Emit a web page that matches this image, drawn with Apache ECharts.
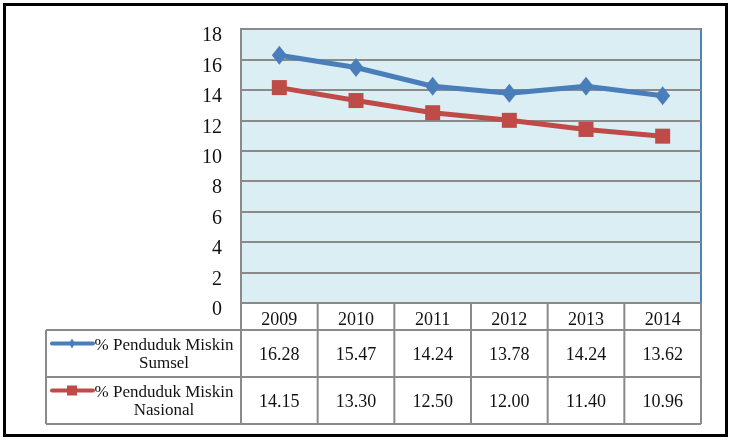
<!DOCTYPE html>
<html><head><meta charset="utf-8">
<script src="https://cdn.jsdelivr.net/npm/echarts@6/dist/echarts.min.js"></script>
<style>html,body{margin:0;padding:0;background:#fff}#c{width:731px;height:448px}</style>
</head><body><div id="c"></div>
<script>
var years = ['2009','2010','2011','2012','2013','2014'];
var sumsel = [16.28, 15.47, 14.24, 13.78, 14.24, 13.62];
var nasional = [14.15, 13.30, 12.50, 12.00, 11.40, 10.96];
var sumselLabel = ['% Penduduk Miskin', 'Sumsel'];
var nasionalLabel = ['% Penduduk Miskin', 'Nasional'];
var yTicks = {min: 0, max: 18, interval: 2};

var FONT = '"Liberation Serif", serif';
var BLUE = '#4a7ebb', RED = '#be4b48', GRID = '#8a8a8a';
var chart = echarts.init(document.getElementById('c'), null, {renderer: 'canvas'});
var option = {
  animation: false,
  grid: {left: 241, right: 30, top: 29, bottom: 145, show: true, backgroundColor: '#dbeef4', borderColor: '#4f81bd', borderWidth: 2},
  xAxis: {type: 'category', data: years, boundaryGap: true,
    axisLine: {show: false}, axisTick: {show: false},
    axisLabel: {margin: 8, fontFamily: FONT, fontSize: 18, color: '#111'}},
  yAxis: {type: 'value', min: yTicks.min, max: yTicks.max, interval: yTicks.interval,
    axisLine: {show: true, lineStyle: {color: GRID, width: 2}},
    axisTick: {show: false},
    axisLabel: {margin: 19, fontFamily: FONT, fontSize: 20, color: '#111', verticalAlign: 'top', lineHeight: 14},
    splitLine: {lineStyle: {color: GRID, width: 2}}},
  series: [
    {name: 'Sumsel', type: 'line', data: sumsel, symbol: 'diamond', symbolSize: [15, 19],
      lineStyle: {color: BLUE, width: 5}, itemStyle: {color: BLUE}},
    {name: 'Nasional', type: 'line', data: nasional, symbol: 'rect', symbolSize: 15,
      lineStyle: {color: RED, width: 5}, itemStyle: {color: RED}}
  ]
};
chart.setOption(option);

function buildTable() {
  var g = [];
  var tL = 46, pL = 241, pR = 701, yTop = 303, r1 = 330, r2 = 377, r3 = 424;
  var ls = {stroke: GRID, lineWidth: 2};
  g.push({type: 'rect', shape: {x: 4.5, y: 4.5, width: 722, height: 431}, style: {fill: null, stroke: '#000', lineWidth: 3}, z: 100});
  g.push({type: 'line', shape: {x1: pL, y1: yTop, x2: pR, y2: yTop}, style: ls, z: 50});
  [r1, r2, r3].forEach(function (y) { g.push({type: 'line', shape: {x1: tL, y1: y, x2: pR, y2: y}, style: ls, z: 50}); });
  g.push({type: 'line', shape: {x1: tL, y1: r1, x2: tL, y2: r3}, style: ls, z: 50});
  var colW = (pR - pL) / years.length;
  for (var i = 0; i <= years.length; i++) {
    var x = pL + i * colW;
    g.push({type: 'line', shape: {x1: x, y1: yTop, x2: x, y2: r3}, style: ls, z: 50});
  }
  var rows = [[sumsel, r1, r2, sumselLabel, BLUE, 'diamond'], [nasional, r2, r3, nasionalLabel, RED, 'rect']];
  rows.forEach(function (row) {
    var vals = row[0], ya = row[1], yb = row[2], cy = (ya + yb) / 2;
    vals.forEach(function (v, j) {
      var cx = chart.convertToPixel({xAxisIndex: 0}, years[j]);
      g.push({type: 'text', x: cx, y: cy + 2, style: {text: v.toFixed(2), fontFamily: FONT, fontSize: 18, fill: '#111', align: 'center', verticalAlign: 'middle'}, z: 60});
    });
    g.push({type: 'text', x: 164, y: cy - 8, style: {text: row[3][0], fontFamily: FONT, fontSize: 17, fill: '#111', align: 'center', verticalAlign: 'middle'}, z: 60});
    g.push({type: 'text', x: 164, y: cy + 10, style: {text: row[3][1], fontFamily: FONT, fontSize: 17, fill: '#111', align: 'center', verticalAlign: 'middle'}, z: 60});
    var ly = cy - 10;
    g.push({type: 'line', shape: {x1: 52, y1: ly, x2: 93, y2: ly}, style: {stroke: row[4], lineWidth: 4, lineCap: 'round'}, z: 60});
    if (row[5] === 'diamond') {
      g.push({type: 'polygon', shape: {points: [[72, ly - 5], [75, ly], [72, ly + 5], [69, ly]]}, style: {fill: row[4]}, z: 61});
    } else {
      g.push({type: 'rect', shape: {x: 67, y: ly - 5, width: 10, height: 10}, style: {fill: row[4]}, z: 61});
    }
  });
  chart.setOption({graphic: g});
}
buildTable();
</script></body></html>
